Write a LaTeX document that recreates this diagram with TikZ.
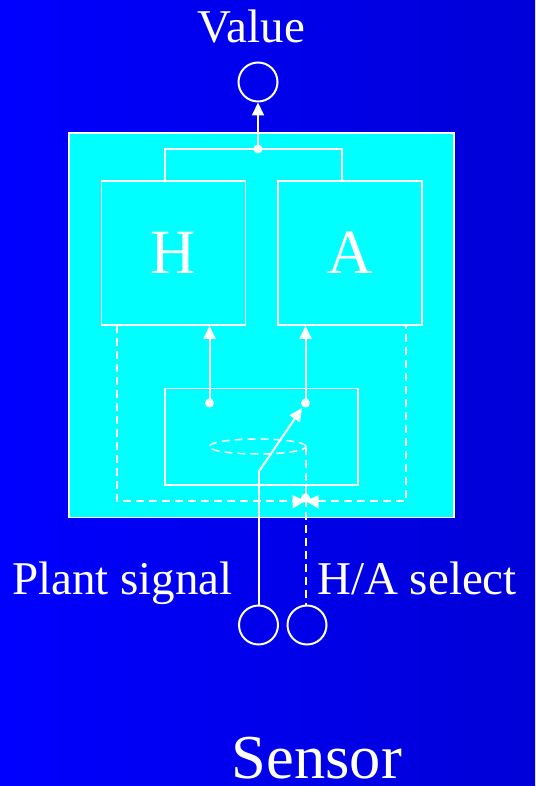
\documentclass[tikz,border=0pt]{standalone}
\usepackage{fontspec}
\setmainfont{Liberation Serif}
\usetikzlibrary{arrows.meta,shapes.geometric}
\definecolor{bgleft}{RGB}{0,0,255}
\definecolor{bgright}{RGB}{0,0,215}
\definecolor{boxcyan}{RGB}{0,255,255}
\begin{document}
\begin{tikzpicture}[x=1pt,y=-1pt,
  wl/.style={draw=white,line width=2pt},
  dl/.style={draw=white,line width=2pt,dash pattern=on 8pt off 5pt},
  arr/.style={wl,-{Triangle[length=13pt,width=12pt]}},
  innerbox/.style={draw=white,line width=1.5pt,minimum width=#1,inner sep=0pt},
  port/.style={circle,draw=white,line width=2pt,minimum size=39pt,inner sep=0pt},
  dot/.style={circle,fill=white,minimum size=9pt,inner sep=0pt},
  lbl/.style={text=white,inner sep=0pt,font=\fontsize{47}{47}\selectfont}]
% background
\path[left color=bgleft,right color=bgright] (0,0) rectangle (535,786);
\useasboundingbox (0,0) rectangle (535,786);
% outer cyan box
\node[draw=white,line width=1.5pt,fill=boxcyan,minimum width=385pt,minimum height=384.5pt,inner sep=0pt] (outer) at (261.5,325.25) {};
% H and A boxes
\node[innerbox=144pt,minimum height=144pt,text=white,font=\fontsize{63}{63}\selectfont] (H) at (173.6,253) {H};
\node[innerbox=144pt,minimum height=144pt,text=white,font=\fontsize{63}{63}\selectfont] (A) at (350,253) {A};
% selector box
\node[innerbox=193pt,minimum height=96.5pt] (sel) at (261.5,436.75) {};
% top output
\node[port] (val) at (258,82) {};
\node[lbl,anchor=base] (vallbl) at (251.5,43) {Value};
\node[dot] (J) at (258,149) {};
\coordinate (hl) at (165,181);
\coordinate (ar) at (342,181);
\draw[wl] (hl) |- (J.center) -| (ar);
\draw[arr] (J.center) -- (val.south);
% selector dots and arrows
\node[dot] (d1) at (209.5,403) {};
\node[dot] (d2) at (305.5,403) {};
\draw[arr] (d1.center) -- (d1.center |- H.south);
\draw[arr] (d2.center) -- (d2.center |- A.south);
% dashed feedback lines with valve
\coordinate (hb) at (117,325);
\coordinate (ab) at (405.5,325);
\coordinate (vc) at (305.5,501);
\draw[dl] (hb) -- (117,501) -- (405.5,501) -- (ab);
% ellipse
\node[draw=white,line width=1.5pt,dash pattern=on 8pt off 5pt,ellipse,minimum width=97pt,minimum height=15pt,inner sep=0pt] (ell) at (257.5,446.5) {};
% bottom ports
\node[port] (pl) at (258.5,625) {};
\node[port] (hs) at (307,625) {};
\coordinate (kink) at (258.5,472);
\coordinate (tip) at (302,408);
\coordinate (er) at (305.5,446.5);
\draw[wl] (pl.north) -- (kink);
\draw[arr] (kink) -- (tip);
\draw[dl] (er) -- (er |- hs.north);
% valve
\fill[white] (vc) -- (292.5,495) -- (292.5,508.5) -- cycle;
\fill[white] (vc) -- (318.5,495) -- (318.5,508.5) -- cycle;
\node[dot] (knob) at (305.5,498) {};
% labels
\node[lbl,anchor=base east] (plbl) at (233,594) {Plant signal};
\node[lbl,anchor=base west] (hlbl) at (317,594) {H/A select};
\node[text=white,inner sep=0pt,font=\fontsize{62.5}{62.5}\selectfont,anchor=base] (sens) at (317,778.5) {Sensor};
\end{tikzpicture}
\end{document}
